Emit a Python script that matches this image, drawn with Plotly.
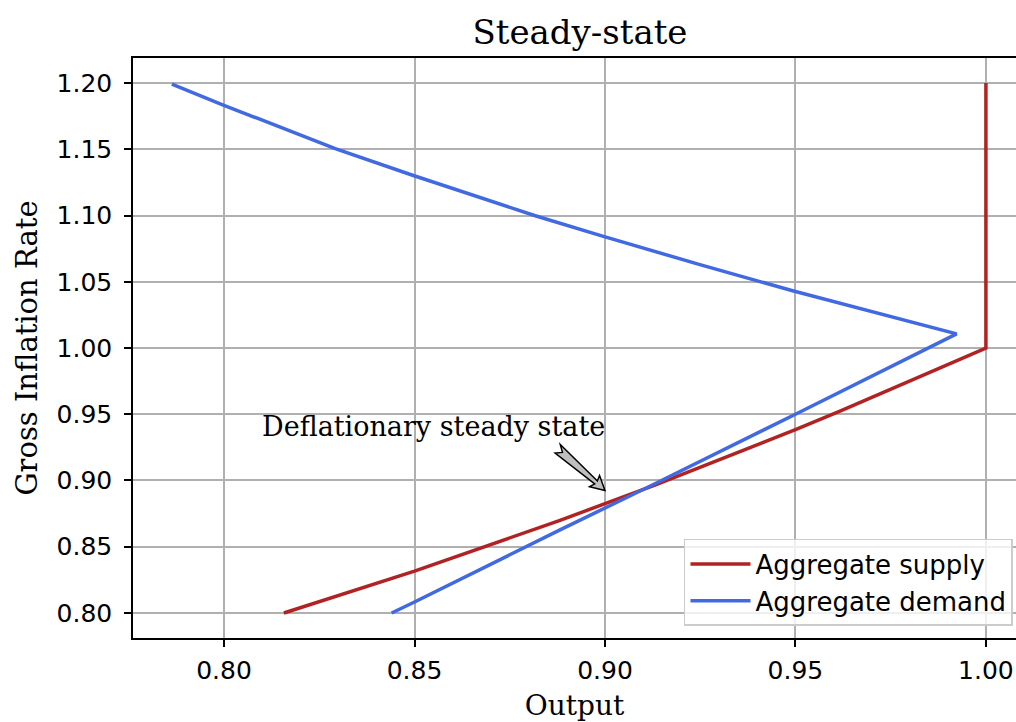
import plotly.graph_objects as go

# ---- data ----
as_output = [0.8157, 0.85, 0.8882, 0.90, 0.9131, 0.95, 0.9617, 1.0, 1.0]
as_inflation = [0.80, 0.8316, 0.8699, 0.8823, 0.8965, 0.9384, 0.9523, 1.0, 1.2]

ad_output = [0.844, 0.85, 0.8882, 0.90, 0.9131, 0.95, 0.9617, 0.9923,
             0.9495, 0.9385, 0.9247, 0.8998, 0.8815, 0.8495, 0.8292, 0.7998, 0.7863]
ad_inflation = [0.80, 0.8083, 0.8627, 0.879, 0.8975, 0.95, 0.9669, 1.0107,
                1.043, 1.0518, 1.0631, 1.0841, 1.10, 1.1304, 1.1505, 1.1834, 1.1992]

x_ticks = [0.80, 0.85, 0.90, 0.95, 1.00]
y_ticks = [0.80, 0.85, 0.90, 0.95, 1.00, 1.05, 1.10, 1.15, 1.20]

annot_text = "Deflationary steady state"
annot_point = (0.90, 0.8925)      # arrow tip
annot_text_pos = (0.8549, 0.9405)  # text centre

RED = "#b22222"
BLUE = "#4169e1"
SERIF = "DejaVu Serif, serif"
SANS = "DejaVu Sans, sans-serif"

fig = go.Figure()
fig.add_trace(go.Scatter(x=as_output, y=as_inflation, mode="lines",
                         name="Aggregate supply",
                         line=dict(color=RED, width=3.5)))
fig.add_trace(go.Scatter(x=ad_output, y=ad_inflation, mode="lines",
                         name="Aggregate demand",
                         line=dict(color=BLUE, width=3.5)))

# fancy arrow (pixel offsets relative to the tip)
ux, uy = 0.745, 0.667          # screen direction tail->tip (y down)
nx, ny = -uy, ux
def pt(t, w):
    sx = -t * ux + w * nx
    sy = -t * uy + w * ny
    return sx, -sy  # plotly pixel y is up

poly = [pt(0, 0), pt(14, 7.5), pt(12, 2.0), pt(62, 5.5), pt(57, 0),
        pt(64, -4.5), pt(12, -2.0), pt(14, -7.5)]
path = "M " + " L ".join(f"{a:.1f},{b:.1f}" for a, b in poly) + " Z"
fig.add_shape(type="path", path=path, xref="x", yref="y",
              xsizemode="pixel", ysizemode="pixel",
              xanchor=annot_point[0], yanchor=annot_point[1],
              fillcolor="#bfbfbf", line=dict(color="black", width=1.5),
              layer="above")

fig.add_annotation(x=annot_text_pos[0], y=annot_text_pos[1], text=annot_text,
                   showarrow=False, xanchor="center", yanchor="middle",
                   font=dict(family=SERIF, size=27, color="black"))

axis_common = dict(
    showgrid=True, gridcolor="#b0b0b0", gridwidth=1.5,
    showline=True, linecolor="black", linewidth=1.5,
    ticks="outside", ticklen=7, tickwidth=1.5, tickcolor="black",
    tickfont=dict(family=SANS, size=25, color="black"),
    zeroline=False, automargin=False,
)

fig.update_layout(
    width=1016, height=722,
    paper_bgcolor="white", plot_bgcolor="white",
    margin=dict(l=133, r=0, t=58, b=84),
    title=dict(text="Steady-state", x=580 / 1016, xref="container",
               xanchor="center", y=1 - 32 / 722, yanchor="middle",
               font=dict(family=SERIF, size=34, color="black")),
    xaxis=dict(range=[0.7761, 1.0079], tickvals=x_ticks,
               ticktext=[f"{v:.2f}" for v in x_ticks], mirror=True,
               ticklabelstandoff=2,
               title=dict(text="Output", font=dict(family=SERIF, size=28, color="black"),
                          standoff=16),
               **axis_common),
    yaxis=dict(range=[0.7811, 1.2189], tickvals=y_ticks,
               ticktext=[f"{v:.2f}" for v in y_ticks],
               ticklabelstandoff=7,
               title=dict(text="Gross Inflation Rate",
                          font=dict(family=SERIF, size=29, color="black"),
                          standoff=10),
               **axis_common),
    legend=dict(x=0.9966, y=0.0207, xanchor="right", yanchor="bottom",
                bgcolor="rgba(255,255,255,0.8)", bordercolor="#cccccc",
                borderwidth=1.5, font=dict(family=SANS, size=26, color="black"),
                itemwidth=60, tracegroupgap=0),
    showlegend=True,
)

fig.write_html("out.html", config={"displayModeBar": False},
               post_script="document.body.style.margin='0';")
